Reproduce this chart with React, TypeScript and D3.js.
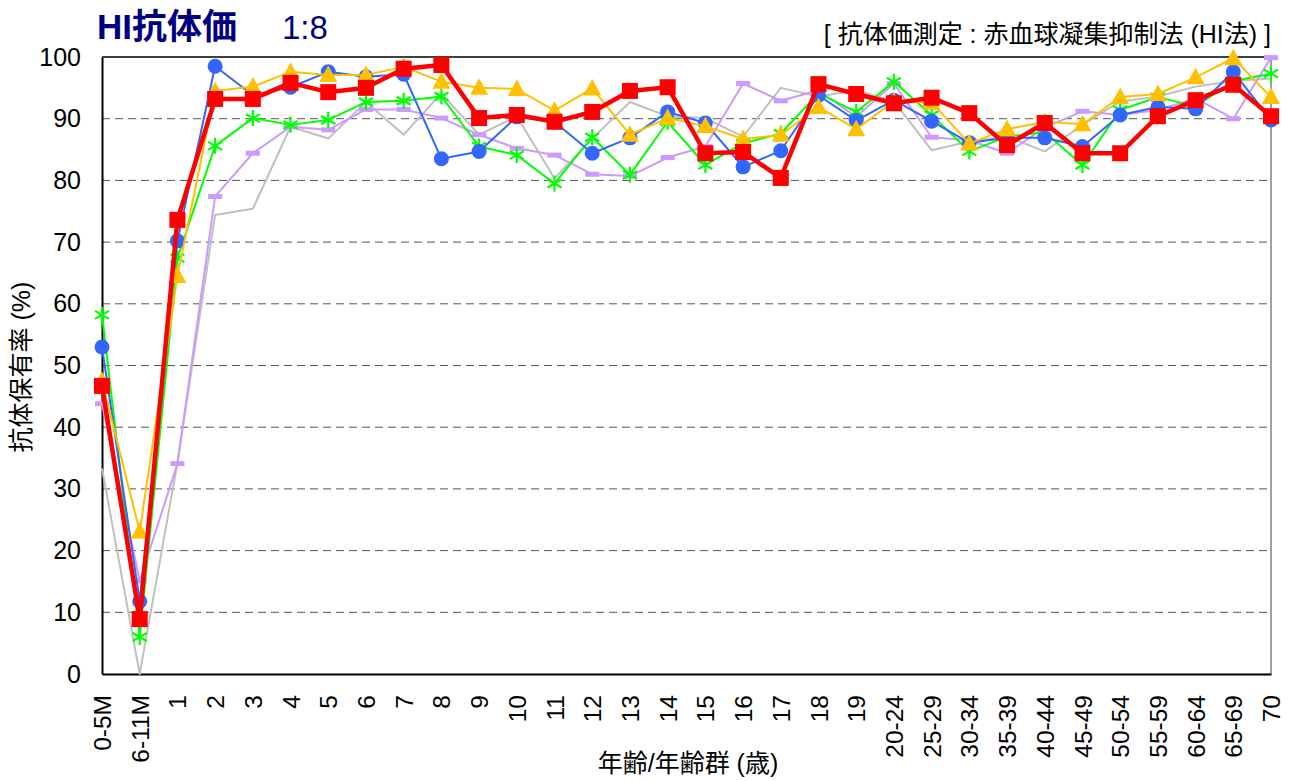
import React, { useEffect, useRef } from "react";
import * as d3 from "d3";

const ages = [
  "0-5M", "6-11M", "1", "2", "3", "4", "5", "6", "7", "8", "9", "10", "11", "12", "13", "14",
  "15", "16", "17", "18", "19", "20-24", "25-29", "30-34", "35-39", "40-44", "45-49", "50-54",
  "55-59", "60-64", "65-69", "70",
];

const yTicks = [0, 10, 20, 30, 40, 50, 60, 70, 80, 90, 100];

const grayVals = [
  33.3, 0, 34.2, 74.4, 75.4, 88.7, 86.8, 92.7, 87.4, 94.1, 87.4, 90.4, 80.3, 86.8, 92.7, 90.4,
  90.1, 87.1, 95.0, 93.6, 94.6, 92.8, 84.9, 86.3, 87.1, 84.7, 89.0, 92.8, 93.6, 95.2, 96.1, 96.5,
];
const lavenderVals = [
  43.8, 15.1, 34.1, 77.4, 84.4, 88.7, 88.2, 91.5, 91.5, 90.1, 87.4, 85.2, 84.1, 81.0, 80.7, 83.7,
  85.5, 95.7, 92.9, 94.6, 90.3, 95.7, 87.0, 86.5, 84.4, 88.6, 91.2, 90.6, 91.4, 93.3, 90.0, 99.9,
];
const greenVals = [
  58.2, 6.0, 67.4, 85.6, 90.1, 89.0, 89.8, 92.7, 92.9, 93.6, 85.5, 84.1, 79.5, 87.0, 80.9, 89.5,
  82.5, 86.0, 87.6, 94.1, 91.1, 96.0, 90.6, 84.7, 87.1, 87.8, 82.5, 91.4, 93.5, 92.0, 96.1, 97.3,
];
const blueVals = [
  53.0, 11.8, 70.2, 98.5, 93.8, 95.1, 97.6, 96.8, 97.2, 83.5, 84.7, 90.3, 89.5, 84.4, 86.9, 91.1,
  89.3, 82.2, 84.8, 93.8, 89.7, 93.0, 89.6, 86.1, 86.9, 86.9, 85.5, 90.6, 91.9, 91.6, 97.6, 89.8,
];
const yellowVals = [
  47.5, 23.1, 64.5, 94.5, 95.2, 97.6, 97.1, 97.1, 98.4, 96.0, 95.0, 94.8, 91.3, 94.9, 87.4, 90.1,
  88.8, 86.7, 87.4, 91.9, 88.3, 92.8, 92.6, 86.0, 88.3, 89.5, 89.1, 93.5, 94.0, 96.7, 99.8, 93.5,
];
const redVals = [
  46.7, 8.9, 73.6, 93.2, 93.2, 95.8, 94.3, 95.0, 98.1, 98.7, 90.1, 90.6, 89.5, 91.1, 94.5, 95.1,
  84.4, 84.6, 80.4, 95.6, 94.0, 92.5, 93.4, 90.9, 85.7, 89.3, 84.4, 84.4, 90.4, 93.0, 95.5, 90.4,
];

const series = [
  { name: "gray", values: grayVals, color: "#c0c0c0", width: 2, marker: "none" },
  { name: "lavender", values: lavenderVals, color: "#cc99ff", width: 2, marker: "dash" },
  { name: "green", values: greenVals, color: "#00ff00", width: 2, marker: "asterisk" },
  { name: "blue", values: blueVals, color: "#3366ff", width: 2, marker: "circle" },
  { name: "yellow", values: yellowVals, color: "#ffc000", width: 2, marker: "triangle" },
  { name: "red", values: redVals, color: "#ff0000", width: 4.5, marker: "square" },
];

const FONT = "'Liberation Sans', Arial, 'Noto Sans CJK JP', sans-serif";

const App = () => {
  const svgRef = useRef<SVGSVGElement>(null);

  useEffect(() => {
    const svg = d3.select(svgRef.current);
    svg.selectAll("*").remove();

    const margin = { top: 57, right: 19, bottom: 107, left: 102 };
    const W = 1290;
    const H = 781;
    const width = W - margin.left - margin.right;
    const height = H - margin.top - margin.bottom;

    const x = d3.scalePoint<string>().domain(ages).range([0, width]);
    const y = d3.scaleLinear().domain([0, 100]).range([height, 0]);

    const g = svg.append("g").attr("transform", `translate(${margin.left},${margin.top})`);

    // grid
    g.selectAll(".grid")
      .data(yTicks.filter((t) => t > 0 && t < 100))
      .enter()
      .append("line")
      .attr("x1", 0)
      .attr("x2", width)
      .attr("y1", (d) => y(d))
      .attr("y2", (d) => y(d))
      .attr("stroke", "#555")
      .attr("stroke-width", 1)
      .attr("stroke-dasharray", "8,5");

    // frame
    g.append("line").attr("x1", 0).attr("x2", width).attr("y1", 0).attr("y2", 0).attr("stroke", "#000").attr("stroke-width", 1.5);
    g.append("line").attr("x1", width).attr("x2", width).attr("y1", 0).attr("y2", height).attr("stroke", "#808080").attr("stroke-width", 1.5);

    // y axis
    const yAxis = g.append("g").call(d3.axisLeft(y).tickValues(yTicks).tickSize(0).tickPadding(21));
    yAxis.select(".domain").attr("stroke", "#000").attr("stroke-width", 2);
    yAxis.selectAll("text").attr("font-size", 25).attr("font-family", FONT).attr("fill", "#000");

    // x axis
    const xAxis = g
      .append("g")
      .attr("transform", `translate(0,${height})`)
      .call(d3.axisBottom(x).tickSize(0).tickPadding(0));
    xAxis.select(".domain").attr("stroke", "#000").attr("stroke-width", 2);
    xAxis
      .selectAll("text")
      .attr("font-size", 24.5)
      .attr("font-family", FONT)
      .attr("fill", "#000")
      .attr("transform", "rotate(-90)")
      .attr("text-anchor", "end")
      .attr("x", -21)
      .attr("y", 0)
      .attr("dy", "0.35em");

    // lines
    const line = d3
      .line<number>()
      .x((_, i) => x(ages[i]) as number)
      .y((d) => y(d));

    series.forEach((s) => {
      g.append("path")
        .datum(s.values)
        .attr("fill", "none")
        .attr("stroke", s.color)
        .attr("stroke-width", s.width)
        .attr("stroke-linejoin", "round")
        .attr("d", line);

      const pts = g
        .selectAll(`.m-${s.name}`)
        .data(s.values)
        .enter()
        .append("g")
        .attr("transform", (d, i) => `translate(${x(ages[i])},${y(d)})`);

      if (s.marker === "circle") {
        pts.append("circle").attr("r", 7.5).attr("fill", s.color);
      } else if (s.marker === "square") {
        pts.append("rect").attr("x", -8).attr("y", -8).attr("width", 16).attr("height", 16).attr("fill", s.color);
      } else if (s.marker === "triangle") {
        pts.append("path").attr("d", "M0,-9.5L9,7L-9,7Z").attr("fill", s.color);
      } else if (s.marker === "dash") {
        pts.append("rect").attr("x", -7).attr("y", -2.5).attr("width", 14).attr("height", 5).attr("fill", s.color);
      } else if (s.marker === "asterisk") {
        pts
          .append("path")
          .attr("d", "M0,-8L0,8M-7,-4L7,4M-7,4L7,-4")
          .attr("stroke", s.color)
          .attr("stroke-width", 2.2)
          .attr("fill", "none");
      }
    });

    // titles
    const title = svg.append("text").attr("x", 97).attr("y", 39).attr("fill", "#000080").attr("font-family", FONT);
    title.append("tspan").attr("font-size", 35).attr("font-weight", "bold").text("HI抗体価");
    title.append("tspan").attr("font-size", 33).attr("x", 282).text("1:8");

    svg
      .append("text")
      .attr("x", 1271)
      .attr("y", 43)
      .attr("text-anchor", "end")
      .attr("font-size", 25)
      .attr("font-family", FONT)
      .attr("fill", "#000")
      .text("[ 抗体価測定 : 赤血球凝集抑制法 (HI法) ]");

    svg
      .append("text")
      .attr("transform", `translate(21,${367}) rotate(-90)`)
      .attr("text-anchor", "middle")
      .attr("dy", "0.35em")
      .attr("font-size", 25)
      .attr("font-family", FONT)
      .attr("fill", "#000")
      .text("抗体保有率 (%)");

    svg
      .append("text")
      .attr("x", 688)
      .attr("y", 772)
      .attr("text-anchor", "middle")
      .attr("font-size", 25)
      .attr("font-family", FONT)
      .attr("fill", "#000")
      .text("年齢/年齢群 (歳)");
  }, []);

  return <svg ref={svgRef} width={1290} height={781} style={{ position: "absolute", left: 0, top: 0, background: "#fff" }}></svg>;
};

export default App;
